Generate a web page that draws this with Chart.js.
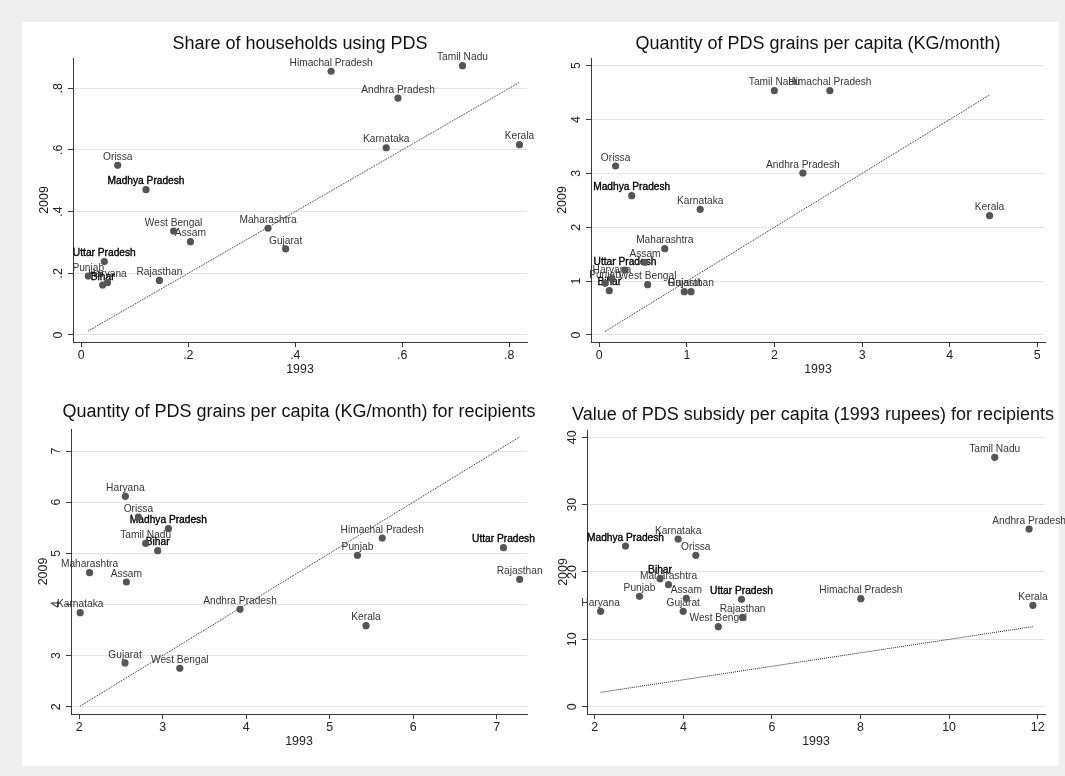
<!DOCTYPE html>
<html>
<head>
<meta charset="utf-8">
<script src="https://cdn.jsdelivr.net/npm/chart.js@4.4.1/dist/chart.umd.min.js"></script>
<style>
html,body{margin:0;padding:0;}
body{width:1065px;height:776px;background:#eeeeee;position:relative;overflow:hidden;}
#panel{position:absolute;left:22px;top:22px;width:1037px;height:744px;background:#ffffff;}
canvas{position:absolute;}
</style>
</head>
<body>
<div id="panel"></div>
<canvas id="c1"></canvas>
<canvas id="c2"></canvas>
<canvas id="c3"></canvas>
<canvas id="c4"></canvas>
<script>
// ---------------- DATA ----------------
const states = ["Andhra Pradesh","Assam","Bihar","Gujarat","Haryana","Himachal Pradesh","Karnataka","Kerala",
  "Madhya Pradesh","Maharashtra","Orissa","Punjab","Rajasthan","Tamil Nadu","Uttar Pradesh","West Bengal"];
const highlightedStates = ["Bihar","Madhya Pradesh","Uttar Pradesh"];

// Share of households using PDS
const share1993 = [0.592,0.204,0.040,0.382,0.049,0.467,0.570,0.819,0.121,0.349,0.068,0.013,0.146,0.7125,0.043,0.1725];
const share2009 = [0.768,0.3025,0.162,0.279,0.1695,0.855,0.607,0.617,0.471,0.346,0.550,0.191,0.177,0.873,0.238,0.337];

// Quantity of PDS grains per capita (KG/month)
const qty1993 = [2.324,0.522,0.114,0.970,0.143,2.632,1.152,4.455,0.370,0.747,0.186,0.065,1.047,1.998,0.293,0.552];
const qty2009 = [3.007,1.350,0.822,0.804,1.047,4.536,2.333,2.215,2.586,1.602,3.137,0.960,0.804,4.536,1.207,0.934];

// Quantity of PDS grains per capita (KG/month) for recipients
const qtyRec1993 = [3.926,2.565,2.940,2.549,2.553,5.630,2.012,5.436,3.068,2.124,2.709,5.333,7.276,2.796,7.082,3.205];
const qtyRec2009 = [3.905,4.439,5.052,2.855,6.114,5.299,3.839,3.585,5.482,4.621,5.710,4.960,4.491,5.195,5.110,2.750];

// Value of PDS subsidy per capita (1993 rupees) for recipients
const subsidy1993 = [11.806,4.066,3.472,3.996,2.131,8.008,3.881,11.892,2.693,3.664,4.281,3.009,5.337,11.03,5.312,4.788];
const subsidy2009 = [26.38,16.09,19.01,14.16,14.16,16.04,24.90,15.05,23.86,18.12,22.47,16.39,13.27,37.03,15.94,11.88];

// Ticks
const shareTicks = [0,0.2,0.4,0.6,0.8];
const shareTickLabels = ["0",".2",".4",".6",".8"];
const qtyTicks = [0,1,2,3,4,5];
const qtyTickLabels = ["0","1","2","3","4","5"];
const qtyRecTicks = [2,3,4,5,6,7];
const qtyRecTickLabels = ["2","3","4","5","6","7"];
const subsidyXTicks = [2,4,6,8,10,12];
const subsidyXTickLabels = ["2","4","6","8","10","12"];
const subsidyYTicks = [0,10,20,30,40];
const subsidyYTickLabels = ["0","10","20","30","40"];

const titles = ["Share of households using PDS",
  "Quantity of PDS grains per capita (KG/month)",
  "Quantity of PDS grains per capita (KG/month) for recipients",
  "Value of PDS subsidy per capita (1993 rupees) for recipients"];
const xAxisTitle = "1993";
const yAxisTitle = "2009";

// ---------------- STYLE / LAYOUT ----------------
const FAMILY = '"Liberation Sans", Arial, Helvetica, sans-serif';
const AXIS_COLOR = '#3a3a3a';
const GRID_COLOR = '#e4e4e4';
const TEXT_COLOR = '#222222';
const POINT_COLOR = '#555555';
const LABEL_COLOR = '#363636';
const TICK_FONT = {family: FAMILY, size: 12.4};

const panels = [
  {id:'c1', box:{x:0,y:0,w:545,h:388}, pad:{left:33,right:18,top:58,bottom:6},
   xs:share1993, ys:share2009, xMin:-0.0155, xMax:0.8331, yMin:-0.0227, yMax:0.8979,
   xTicks:shareTicks, xLabels:shareTickLabels, yTicks:shareTicks, yLabels:shareTickLabels,
   yTickPad:4.33, yTitlePad:4.56, xTitlePad:4.6, title:titles[0], titleX:300, titleY:43.7},
  {id:'c2', box:{x:545,y:0,w:520,h:388}, pad:{left:6,right:20,top:58,bottom:6},
   xs:qty1993, ys:qty2009, xMin:-0.0947, xMax:5.088, yMin:-0.13, yMax:5.142,
   xTicks:qtyTicks, xLabels:qtyTickLabels, yTicks:qtyTicks, yLabels:qtyTickLabels,
   yTickPad:6.05, yTitlePad:4.06, xTitlePad:4.6, title:titles[1], titleX:818, titleY:43.7},
  {id:'c3', box:{x:0,y:388,w:545,h:388}, pad:{left:31,right:18,top:41,bottom:22},
   xs:qtyRec1993, ys:qtyRec2009, xMin:1.9018, xMax:7.364, yMin:1.857, yMax:7.431,
   xTicks:qtyRecTicks, xLabels:qtyRecTickLabels, yTicks:qtyRecTicks, yLabels:qtyRecTickLabels,
   yTickPad:6.05, yTitlePad:5.56, xTitlePad:4.8, title:titles[2], titleX:299, titleY:412},
  {id:'c4', box:{x:545,y:388,w:520,h:388}, pad:{left:2,right:20,top:42,bottom:22},
   xs:subsidy1993, ys:subsidy2009, xMin:1.824, xMax:12.165, yMin:-1.084, yMax:41.08,
   xTicks:subsidyXTicks, xLabels:subsidyXTickLabels, yTicks:subsidyYTicks, yLabels:subsidyYTickLabels,
   yTickPad:2.61, yTitlePad:9.56, xTitlePad:4.8, title:titles[3], titleX:813, titleY:415}
];

const pointLabelPlugin = {
  id: 'pointLabels',
  beforeDatasetsDraw(chart) {
    const meta = chart.getDatasetMeta(0);
    const names = chart.data.datasets[0].names;
    const ctx = chart.ctx;
    ctx.save();
    ctx.font = '10.2px ' + FAMILY;
    ctx.textAlign = 'center';
    ctx.textBaseline = 'alphabetic';
    const order = [];
    names.forEach((n, i) => { if (!highlightedStates.includes(n)) order.push(i); });
    names.forEach((n, i) => { if (highlightedStates.includes(n)) order.push(i); });
    order.forEach(i => {
      const el = meta.data[i];
      const n = names[i];
      const hl = highlightedStates.includes(n);
      ctx.fillStyle = hl ? '#000000' : LABEL_COLOR;
      ctx.fillText(n, el.x, el.y - 5.3);
      if (hl) {
        ctx.strokeStyle = '#000000';
        ctx.lineWidth = 0.35;
        ctx.strokeText(n, el.x, el.y - 5.3);
      }
    });
    ctx.restore();
  }
};

const panelTitlePlugin = {
  id: 'panelTitle',
  afterDraw(chart, args, opts) {
    const ctx = chart.ctx;
    ctx.save();
    ctx.font = '18px ' + FAMILY;
    ctx.fillStyle = '#111111';
    ctx.textAlign = 'center';
    ctx.textBaseline = 'middle';
    ctx.fillText(opts.text, opts.x, opts.y);
    ctx.restore();
  }
};

function makePanel(p) {
  const cv = document.getElementById(p.id);
  cv.width = p.box.w; cv.height = p.box.h;
  cv.style.left = p.box.x + 'px'; cv.style.top = p.box.y + 'px';
  cv.style.width = p.box.w + 'px'; cv.style.height = p.box.h + 'px';
  const pts = p.xs.map((x, i) => ({x: x, y: p.ys[i]}));
  const lo = Math.min(...p.xs), hi = Math.max(...p.xs);
  new Chart(cv, {
    type: 'scatter',
    data: {
      datasets: [
        {data: pts, names: states, pointRadius: 3.6, pointHoverRadius: 3.6,
         backgroundColor: POINT_COLOR, borderWidth: 0, clip: false},
        {data: [{x: lo, y: lo}, {x: hi, y: hi}], showLine: true, pointRadius: 0,
         borderColor: '#1e1e1e', borderWidth: 1, borderDash: [1, 1], fill: false, clip: false}
      ]
    },
    options: {
      responsive: false, animation: false, devicePixelRatio: 1,
      events: [],
      layout: {padding: p.pad},
      plugins: {legend: {display: false}, tooltip: {enabled: false}, title: {display: false},
        panelTitle: {text: p.title, x: p.titleX - p.box.x, y: p.titleY - p.box.y}},
      scales: {
        x: {
          type: 'linear', min: p.xMin, max: p.xMax,
          afterBuildTicks: s => { s.ticks = p.xTicks.map(v => ({value: v})); },
          afterFit: s => { s.height = 40; },
          ticks: {callback: (v, i) => p.xLabels[i], font: TICK_FONT, color: TEXT_COLOR,
                  padding: 1.5, maxRotation: 0, minRotation: 0, autoSkip: false},
          grid: {drawOnChartArea: false, drawTicks: true, tickLength: 5, tickColor: AXIS_COLOR, tickWidth: 1},
          border: {display: true, color: AXIS_COLOR, width: 1},
          title: {display: true, text: xAxisTitle, font: TICK_FONT, color: TEXT_COLOR,
                  padding: {top: 0, bottom: p.xTitlePad}}
        },
        y: {
          type: 'linear', min: p.yMin, max: p.yMax,
          afterBuildTicks: s => { s.ticks = p.yTicks.map(v => ({value: v})); },
          afterFit: s => { s.width = 40; },
          ticks: {callback: (v, i) => p.yLabels[i], font: TICK_FONT, color: TEXT_COLOR,
                  padding: p.yTickPad, minRotation: 90, maxRotation: 90, crossAlign: 'center', autoSkip: false},
          grid: {drawOnChartArea: true, color: GRID_COLOR, lineWidth: 1, drawTicks: true,
                 tickLength: 5, tickColor: AXIS_COLOR, tickWidth: 1},
          border: {display: true, color: AXIS_COLOR, width: 1},
          title: {display: true, text: yAxisTitle, font: TICK_FONT, color: TEXT_COLOR,
                  padding: {top: p.yTitlePad, bottom: 0}}
        }
      }
    },
    plugins: [pointLabelPlugin, panelTitlePlugin]
  });
}

panels.forEach(makePanel);
</script>
</body>
</html>
